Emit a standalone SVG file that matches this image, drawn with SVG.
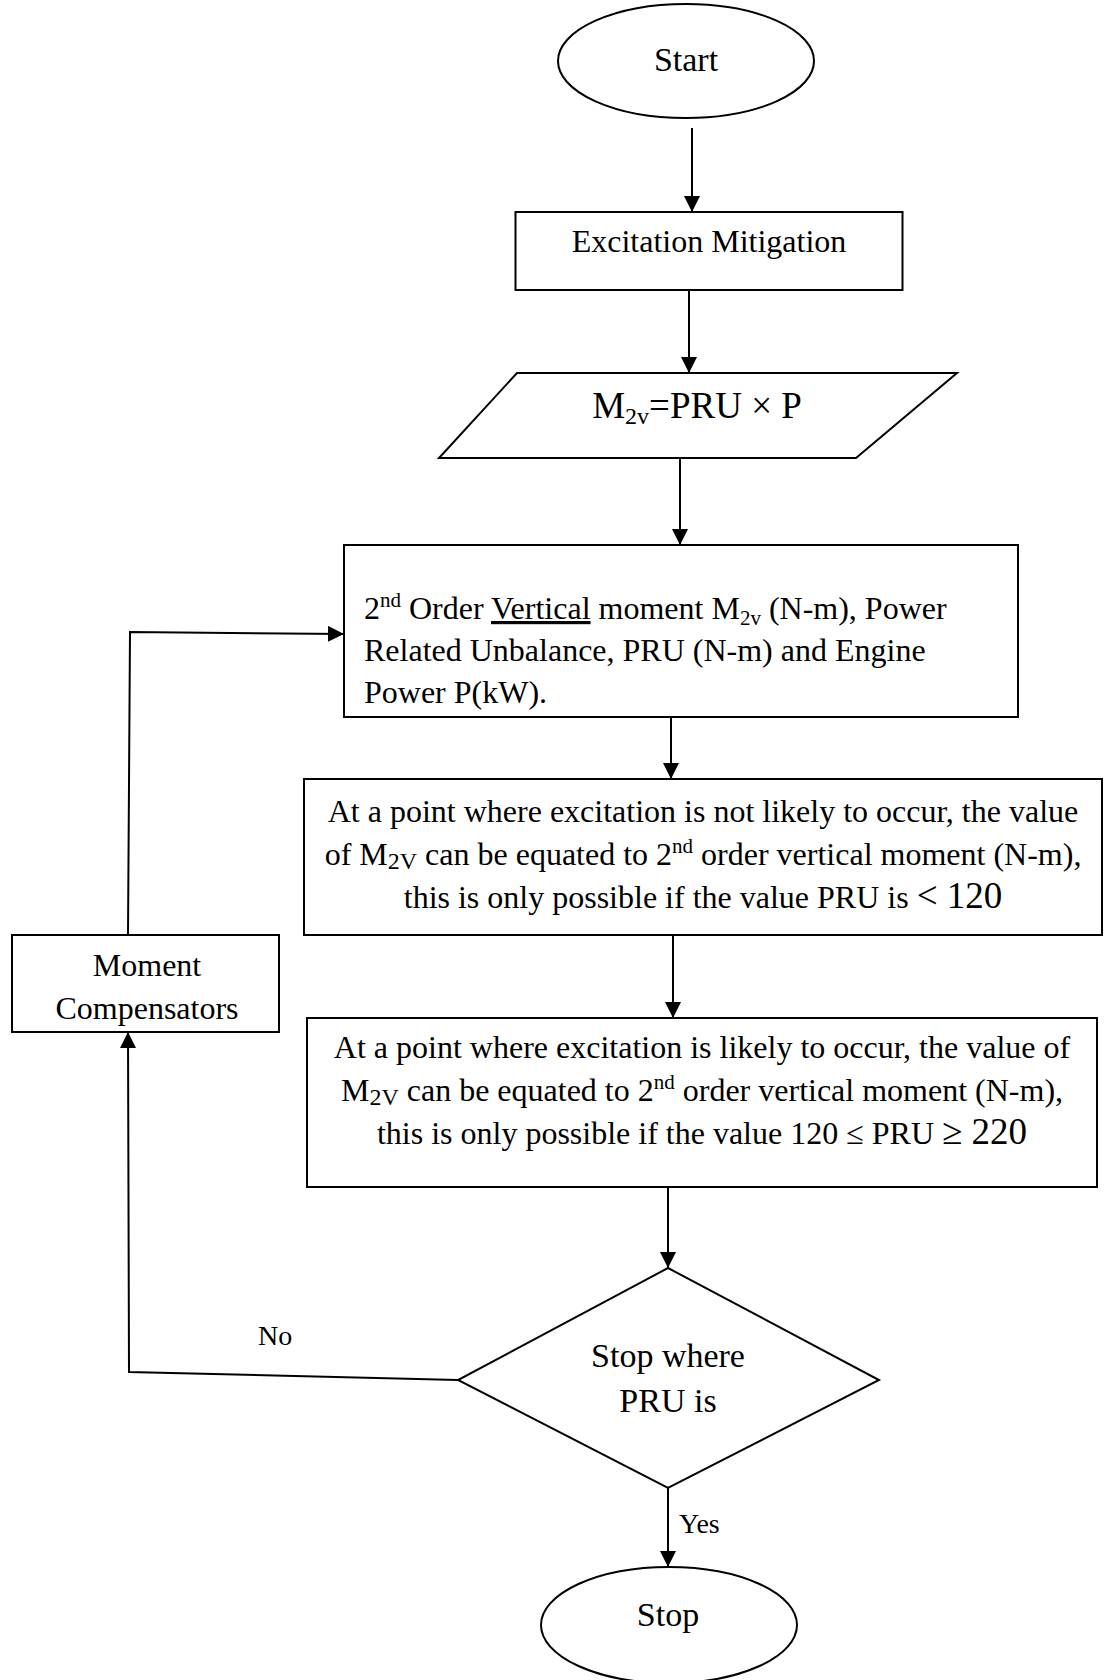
<svg xmlns="http://www.w3.org/2000/svg" width="1104" height="1680" viewBox="0 0 1104 1680">
<style>
.s{fill:#fff;stroke:#000;stroke-width:2}
.c{fill:none;stroke:#000;stroke-width:2}
text{font-family:"Liberation Serif","Times New Roman",serif;fill:#000;font-size:32px}
.m{text-anchor:middle}
</style>
<defs>
<marker id="ah" markerUnits="userSpaceOnUse" viewBox="0 0 16 16" refX="16" refY="8" markerWidth="16" markerHeight="16" orient="auto">
<path d="M0,0 L16,8 L0,16 z" fill="#000"/>
</marker>
</defs>
<rect width="1104" height="1680" fill="#fff"/>
<g id="connectors">
<path class="c" d="M692,128 L692,212" marker-end="url(#ah)"/>
<path class="c" d="M689,290 L689,373" marker-end="url(#ah)"/>
<path class="c" d="M680,458 L680,545" marker-end="url(#ah)"/>
<path class="c" d="M671,717 L671,779" marker-end="url(#ah)"/>
<path class="c" d="M673,935 L673,1018" marker-end="url(#ah)"/>
<path class="c" d="M668,1187 L668,1268" marker-end="url(#ah)"/>
<path class="c" d="M668,1488 L668,1567" marker-end="url(#ah)"/>
<path class="c" d="M458,1380 L129,1372 L128,1032" marker-end="url(#ah)"/>
<path class="c" d="M128,935 L130,632 L344,634" marker-end="url(#ah)"/>
<text x="258" y="1345" style="font-size:28px">No</text>
<text x="679" y="1533" style="font-size:28px">Yes</text>
</g>
<g id="start">
<ellipse class="s" cx="686" cy="61" rx="128" ry="57"/>
<text class="m" x="686" y="71" style="font-size:34px">Start</text>
</g>
<g id="excitation">
<rect class="s" x="515.5" y="212" width="387" height="78"/>
<text class="m" x="709" y="252">Excitation Mitigation</text>
</g>
<g id="formula">
<path class="s" d="M517,373 L957,373 L856,458 L439,458 Z"/>
<text class="m" x="697" y="418" style="font-size:37px">M<tspan style="font-size:24px" dy="6">2v</tspan><tspan dy="-6">=PRU × P</tspan></text>
</g>
<g id="inputs">
<rect class="s" x="344" y="545" width="674" height="172"/>
<text x="364" y="619">2<tspan style="font-size:21px" dy="-12">nd</tspan><tspan dy="12"> Order </tspan><tspan text-decoration="underline">Vertical</tspan> moment M<tspan style="font-size:21px" dy="6">2v</tspan><tspan dy="-6"> (N-m), Power</tspan></text>
<text x="364" y="661">Related Unbalance, PRU (N-m) and Engine</text>
<text x="364" y="703">Power P(kW).</text>
</g>
<g id="not-likely">
<rect class="s" x="304" y="779" width="798" height="156"/>
<text class="m" x="703" y="822">At a point where excitation is not likely to occur, the value</text>
<text class="m" x="703" y="865">of M<tspan style="font-size:24px" dy="4">2V</tspan><tspan dy="-4"> can be equated to 2</tspan><tspan style="font-size:21px" dy="-12">nd</tspan><tspan dy="12"> order vertical moment (N-m),</tspan></text>
<text class="m" x="703" y="908">this is only possible if the value PRU is <tspan style="font-size:37px">&lt; 120</tspan></text>
</g>
<g id="likely">
<rect class="s" x="307" y="1018" width="790" height="169"/>
<text class="m" x="702" y="1058">At a point where excitation is likely to occur, the value of</text>
<text class="m" x="702" y="1101">M<tspan style="font-size:24px" dy="4">2V</tspan><tspan dy="-4"> can be equated to 2</tspan><tspan style="font-size:21px" dy="-12">nd</tspan><tspan dy="12"> order vertical moment (N-m),</tspan></text>
<text class="m" x="702" y="1144">this is only possible if the value 120 ≤ PRU <tspan style="font-size:37px">≥ 220</tspan></text>
</g>
<g id="compensators">
<rect class="s" x="12" y="935" width="267" height="97"/>
<text class="m" x="147" y="976">Moment</text>
<text class="m" x="147" y="1019">Compensators</text>
</g>
<g id="decision">
<path class="s" d="M668,1268 L879,1380 L668,1488 L458,1380 Z"/>
<text class="m" x="668" y="1367" style="font-size:34px">Stop where</text>
<text class="m" x="668" y="1412" style="font-size:34px">PRU is</text>
</g>
<g id="stop">
<ellipse class="s" cx="669" cy="1625" rx="128" ry="58"/>
<text class="m" x="668" y="1626" style="font-size:34px">Stop</text>
</g>
</svg>
